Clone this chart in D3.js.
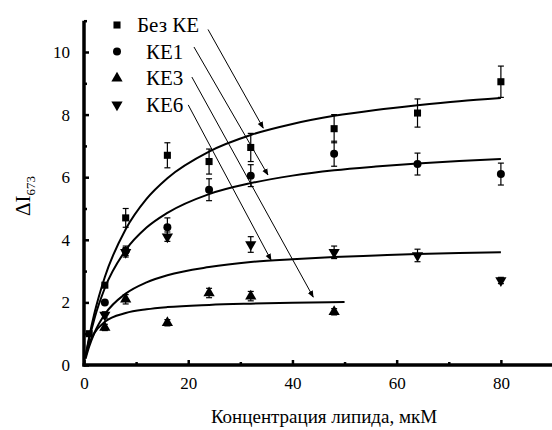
<!DOCTYPE html>
<html>
<head>
<meta charset="utf-8">
<script src="https://cdn.jsdelivr.net/npm/d3@7"></script>
<style>
  body { margin: 0; background: #fff; }
  svg text { font-family: "Liberation Serif", "Times New Roman", serif !important; fill: #000; }
</style>
</head>
<body>
<div id="chart"></div>
<script>
var width = 552;
var height = 430;

// measured points (concentration, ΔI673, error)
var bezKE_x = [1, 4, 8, 16, 24, 32, 48, 64, 80];
var bezKE_y = [1.0, 2.55, 4.7, 6.7, 6.5, 6.95, 7.55, 8.05, 9.05];
var bezKE_e = [0, 0, 0.3, 0.4, 0.4, 0.45, 0.45, 0.45, 0.5];

var ke1_x = [4, 8, 16, 24, 32, 48, 64, 80];
var ke1_y = [2.0, 3.65, 4.4, 5.6, 6.05, 6.75, 6.42, 6.1];
var ke1_e = [0, 0.15, 0.3, 0.35, 0.35, 0.4, 0.35, 0.35];

var ke3_x = [4, 8, 16, 24, 32, 48];
var ke3_y = [1.2, 2.1, 1.35, 2.3, 2.2, 1.7];
var ke3_e = [0.1, 0.15, 0.1, 0.15, 0.15, 0.1];

var ke6_x = [4, 8, 16, 32, 48, 64, 80];
var ke6_y = [1.6, 3.6, 4.1, 3.85, 3.6, 3.5, 2.7];
var ke6_e = [0.1, 0.15, 0.15, 0.25, 0.2, 0.2, 0.1];

// fitted curves
var curve_x = [0.3, 1, 2, 4, 8, 12, 16, 24, 32, 40, 48, 56, 64, 72, 80];
var bezKE_fit = [0.29, 0.90, 1.65, 2.81, 4.34, 5.31, 5.97, 6.82, 7.35, 7.70, 7.96, 8.15, 8.30, 8.43, 8.53];
var ke1_fit = [0.27, 0.83, 1.48, 2.46, 3.67, 4.39, 4.86, 5.46, 5.81, 6.05, 6.22, 6.34, 6.44, 6.52, 6.58];
var ke6_fit = [0.20, 0.59, 1.03, 1.62, 2.28, 2.64, 2.87, 3.13, 3.29, 3.38, 3.45, 3.50, 3.55, 3.58, 3.60];
var ke3_curve_x = [0.3, 1, 2, 4, 8, 12, 16, 24, 32, 40, 50];
var ke3_fit = [0.26, 0.68, 1.02, 1.38, 1.66, 1.78, 1.85, 1.92, 1.96, 1.99, 2.01];

var seriesNames = ["Без КЕ", "КЕ1", "КЕ3", "КЕ6"];
var seriesSymbols = [d3.symbolSquare, d3.symbolCircle, d3.symbolTriangle, d3.symbolTriangle];

var xTicks = [0, 20, 40, 60, 80];
var xMinor = [10, 30, 50, 70, 90];
var yTicks = [0, 2, 4, 6, 8, 10];
var yMinor = [1, 3, 5, 7, 9, 11];

// arrows from legend labels to curves, in data units [x1, y1, x2, y2]
var arrows = [
  [23.8, 10.72, 34.4, 7.57],
  [21.1, 10.16, 35.3, 6.07],
  [20.7, 9.20, 44.0, 2.17],
  [20.0, 8.31, 35.9, 3.35]
];

var serif = "'Liberation Serif', 'Times New Roman', serif";

var svg = d3.select("#chart").append("svg")
    .attr("width", width)
    .attr("height", height);

var x = d3.scaleLinear().domain([0, 90]).range([84, 553]);
var y = d3.scaleLinear().domain([0, 11]).range([365, 20.7]);

svg.append("defs").append("marker")
    .attr("id", "head")
    .attr("viewBox", "0 0 10 10")
    .attr("refX", 9).attr("refY", 5)
    .attr("markerWidth", 7).attr("markerHeight", 7)
    .attr("markerUnits", "userSpaceOnUse")
    .attr("orient", "auto")
    .append("path").attr("d", "M0,1L10,5L0,9Z").attr("fill", "#000");

// curves
var line = d3.line().x(function(d) { return x(d[0]); }).y(function(d) { return y(d[1]); })
    .curve(d3.curveMonotoneX);
var fits = [d3.zip(curve_x, bezKE_fit), d3.zip(curve_x, ke1_fit), d3.zip(ke3_curve_x, ke3_fit), d3.zip(curve_x, ke6_fit)];
svg.append("g").selectAll("path")
    .data(fits)
    .enter().append("path")
    .attr("d", line)
    .attr("fill", "none")
    .attr("stroke", "#000")
    .attr("stroke-width", 2);

// points with error bars
var sets = [
  [bezKE_x, bezKE_y, bezKE_e],
  [ke1_x, ke1_y, ke1_e],
  [ke3_x, ke3_y, ke3_e],
  [ke6_x, ke6_y, ke6_e]
];
var symSize = [50, 50, 55, 55];

sets.forEach(function(s, i) {
  var pts = d3.zip(s[0], s[1], s[2]);
  var g = svg.append("g");
  var eb = g.selectAll(".eb").data(pts.filter(function(d) { return d[2] > 0; })).enter().append("g");
  eb.append("line")
      .attr("x1", function(d) { return x(d[0]); }).attr("x2", function(d) { return x(d[0]); })
      .attr("y1", function(d) { return y(d[1] - d[2]); }).attr("y2", function(d) { return y(d[1] + d[2]); })
      .attr("stroke", "#000").attr("stroke-width", 1.2);
  [-1, 1].forEach(function(sg) {
    eb.append("line")
        .attr("x1", function(d) { return x(d[0]) - 3; }).attr("x2", function(d) { return x(d[0]) + 3; })
        .attr("y1", function(d) { return y(d[1] + sg * d[2]); }).attr("y2", function(d) { return y(d[1] + sg * d[2]); })
        .attr("stroke", "#000").attr("stroke-width", 1.2);
  });
  g.selectAll(".pt").data(pts).enter().append("path")
      .attr("d", d3.symbol().type(seriesSymbols[i]).size(symSize[i]))
      .attr("transform", function(d) {
        return "translate(" + x(d[0]) + "," + y(d[1]) + ")" + (i === 3 ? " rotate(180)" : "");
      })
      .attr("fill", "#000");
});

// arrows
svg.append("g").selectAll("line")
    .data(arrows)
    .enter().append("line")
    .attr("x1", function(d) { return x(d[0]); }).attr("y1", function(d) { return y(d[1]); })
    .attr("x2", function(d) { return x(d[2]); }).attr("y2", function(d) { return y(d[3]); })
    .attr("stroke", "#000").attr("stroke-width", 1)
    .attr("marker-end", "url(#head)");

// axes
var xAxis = svg.append("g").attr("transform", "translate(0,365)")
    .call(d3.axisBottom(x).tickValues(xTicks).tickSize(-5).tickPadding(12).tickFormat(d3.format("d")));
svg.append("g").attr("transform", "translate(0,365)")
    .call(d3.axisBottom(x).tickValues(xMinor).tickSize(-3).tickFormat(""))
    .select(".domain").remove();
var yAxis = svg.append("g").attr("transform", "translate(84,0)")
    .call(d3.axisLeft(y).tickValues(yTicks).tickSize(-5).tickPadding(14).tickFormat(d3.format("d")));
svg.append("g").attr("transform", "translate(84,0)")
    .call(d3.axisLeft(y).tickValues(yMinor).tickSize(-3).tickFormat(""))
    .select(".domain").remove();

svg.selectAll(".domain").attr("stroke-width", 3.5);
xAxis.select(".domain").attr("d", "M82.5,0H553");
yAxis.select(".domain").attr("d", "M0," + (365 + 1.5) + "V" + y(11));
svg.selectAll("g").attr("font-family", serif);
svg.selectAll(".tick line").attr("stroke-width", 2.5);
svg.selectAll(".tick text")
    .style("font-family", serif)
    .style("font-size", "17px");

// legend
var legendTextX = [137, 146, 146, 146];
var legend = svg.append("g");
seriesNames.forEach(function(name, i) {
  var yy = 32 + i * 26.6;
  legend.append("path")
      .attr("d", d3.symbol().type(seriesSymbols[i]).size(symSize[i]))
      .attr("transform", "translate(117," + (yy - 7) + ")" + (i === 3 ? " rotate(180)" : ""))
      .attr("fill", "#000");
  legend.append("text")
      .attr("x", legendTextX[i]).attr("y", yy)
      .style("font-family", serif)
      .style("font-size", "21px")
      .text(name);
});

// axis titles
var yt = svg.append("text")
    .attr("transform", "translate(30,216) rotate(-90)")
    .style("font-family", serif)
    .style("font-size", "21px");
yt.append("tspan").text("ΔI");
yt.append("tspan").attr("dy", 5).style("font-size", "13px").text("673");

svg.append("text")
    .attr("x", 324).attr("y", 423)
    .attr("text-anchor", "middle")
    .style("font-family", serif)
    .style("font-size", "19px")
    .text("Концентрация липида, мкМ");
</script>
</body>
</html>
